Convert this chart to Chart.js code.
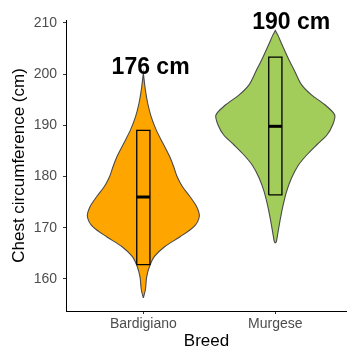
<!DOCTYPE html>
<html>
<head>
<meta charset="utf-8">
<script src="https://cdn.jsdelivr.net/npm/chart.js@4"></script>
<style>
  html, body { margin: 0; padding: 0; background: #ffffff; }
</style>
</head>
<body>
<canvas id="violinChart" width="347" height="353"></canvas>
<script>
// Datos
var categorias = ['Bardigiano', 'Murgese'];
var ticksY = [160, 170, 180, 190, 200, 210];

// Perfil de densidad (valor en cm, semi-anchura relativa)
var bardigianoValores = [156.3, 157.9, 160.4, 162.4, 164.4, 166.3, 168.2, 170.2, 172.2, 174.1, 176.1, 178.0, 180.0, 181.9, 183.9, 186.5, 189.1, 191.7, 194.3, 196.9, 200.2];
var bardigianoDensidad = [0, 2, 3.3, 6, 11, 21, 36, 50, 55.3, 52.7, 46, 38.7, 33.3, 30, 26, 19.3, 12.7, 7.7, 4.3, 2, 0];
var murgeseValores = [167.0, 167.3, 169.2, 171.8, 174.4, 177.0, 179.7, 182.2, 184.2, 186.2, 188.1, 190.1, 192.0, 194.0, 195.9, 197.9, 200.5, 203.1, 205.7, 207.6, 208.5];
var murgeseDensidad = [0, 1, 2.7, 5, 7.7, 11, 16, 22.7, 31, 41, 51, 56.7, 58.7, 49, 36, 26, 19.3, 12.7, 6.7, 2.5, 0];

// Caja: Q1, mediana, Q3
var cuartil1 = [162.8, 176.4];
var medianas = [176, 189.8];
var cuartil3 = [189, 203.3];

// Etiquetas de texto
var etiquetas = ['176 cm', '190 cm'];
var etiquetaX = [1.055, 2.12];
var etiquetaY = [201.2, 210.1];

var colores = ['#FFA500', '#A2CD5A'];
var fuente = "'Liberation Sans', Arial, sans-serif";

var anchoMax = 0.45;   // semi-anchura máxima en unidades del eje x
var anchoCaja = 0.05;  // semi-anchura de la caja
var maxDensidad = Math.max.apply(null, bardigianoDensidad.concat(murgeseDensidad));

function contornoViolin(centro, valores, densidad) {
    var puntos = [];
    // lado derecho, de abajo hacia arriba
    for (var i = 0; i < valores.length; i++) {
        puntos.push({x: centro + densidad[i] / maxDensidad * anchoMax, y: valores[i]});
    }
    // lado izquierdo, de arriba hacia abajo
    for (var j = valores.length - 1; j >= 0; j--) {
        puntos.push({x: centro - densidad[j] / maxDensidad * anchoMax, y: valores[j]});
    }
    return puntos;
}

function caja(centro, q1, q3) {
    return [
        {x: centro - anchoCaja, y: q1}, {x: centro + anchoCaja, y: q1},
        {x: centro + anchoCaja, y: q3}, {x: centro - anchoCaja, y: q3},
        {x: centro - anchoCaja, y: q1}
    ];
}

var perfiles = [
    [bardigianoValores, bardigianoDensidad],
    [murgeseValores, murgeseDensidad]
];

var conjuntos = [];
for (let k = 0; k < categorias.length; k++) {
    conjuntos.push({
        label: categorias[k],
        data: contornoViolin(k + 1, perfiles[k][0], perfiles[k][1]),
        showLine: true,
        fill: 'shape',
        backgroundColor: colores[k],
        borderColor: '#4a4a4a',
        borderWidth: 1.1,
        tension: 0.3,
        pointRadius: 0,
        order: 2
    });
}
for (let k = 0; k < categorias.length; k++) {
    conjuntos.push({
        label: categorias[k] + ' caja',
        data: caja(k + 1, cuartil1[k], cuartil3[k]),
        showLine: true,
        fill: false,
        borderColor: '#000000',
        borderWidth: 1.3,
        tension: 0,
        pointRadius: 0,
        order: 1
    });
    conjuntos.push({
        label: categorias[k] + ' mediana',
        data: [{x: k + 1 - anchoCaja, y: medianas[k]}, {x: k + 1 + anchoCaja, y: medianas[k]}],
        showLine: true,
        fill: false,
        borderColor: '#000000',
        borderWidth: 3,
        pointRadius: 0,
        order: 0
    });
}

// Plugin para las etiquetas de texto
var pluginEtiquetas = {
    id: 'etiquetas',
    afterDatasetsDraw: function(chart) {
        var ctx = chart.ctx;
        var sx = chart.scales.x, sy = chart.scales.y;
        ctx.save();
        ctx.font = 'bold 23px ' + fuente;
        ctx.fillStyle = '#000000';
        ctx.textAlign = 'center';
        ctx.textBaseline = 'middle';
        for (var i = 0; i < etiquetas.length; i++) {
            ctx.fillText(etiquetas[i], sx.getPixelForValue(etiquetaX[i]), sy.getPixelForValue(etiquetaY[i]));
        }
        ctx.restore();
    }
};

var ctx = document.getElementById('violinChart').getContext('2d');
var grafico = new Chart(ctx, {
    type: 'scatter',
    data: { datasets: conjuntos },
    options: {
        responsive: false,
        animation: false,
        layout: { padding: { top: 20, right: 0, left: 0, bottom: 0 } },
        plugins: {
            legend: { display: false },
            tooltip: { enabled: false }
        },
        scales: {
            x: {
                type: 'linear',
                min: 0.414,
                max: 2.543,
                afterFit: function(s) { s.height = 42; },
                afterBuildTicks: function(s) {
                    s.ticks = categorias.map(function(c, i) { return {value: i + 1}; });
                },
                ticks: {
                    color: '#4d4d4d',
                    font: { family: fuente, size: 14 },
                    padding: 2,
                    callback: function(v) { return categorias[Math.round(v) - 1]; }
                },
                grid: { display: true, drawOnChartArea: false, drawTicks: true, tickLength: 3, color: '#333333' },
                border: { display: true, color: '#000000', width: 1 },
                title: {
                    display: true,
                    text: 'Breed',
                    color: '#000000',
                    font: { family: fuente, size: 17 },
                    padding: { top: 0, bottom: 1 }
                }
            },
            y: {
                min: 153.75,
                max: 210.55,
                afterFit: function(s) { s.width = 66; },
                afterBuildTicks: function(s) {
                    s.ticks = ticksY.map(function(v) { return {value: v}; });
                },
                ticks: {
                    color: '#4d4d4d',
                    font: { family: fuente, size: 14 },
                    padding: 6
                },
                grid: { display: true, drawOnChartArea: false, drawTicks: true, tickLength: 3, color: '#333333' },
                border: { display: true, color: '#000000', width: 1 },
                title: {
                    display: true,
                    text: 'Chest circumference (cm)',
                    color: '#000000',
                    font: { family: fuente, size: 17 },
                    padding: { top: 9, bottom: 0 }
                }
            }
        }
    },
    plugins: [pluginEtiquetas]
});
</script>
</body>
</html>
